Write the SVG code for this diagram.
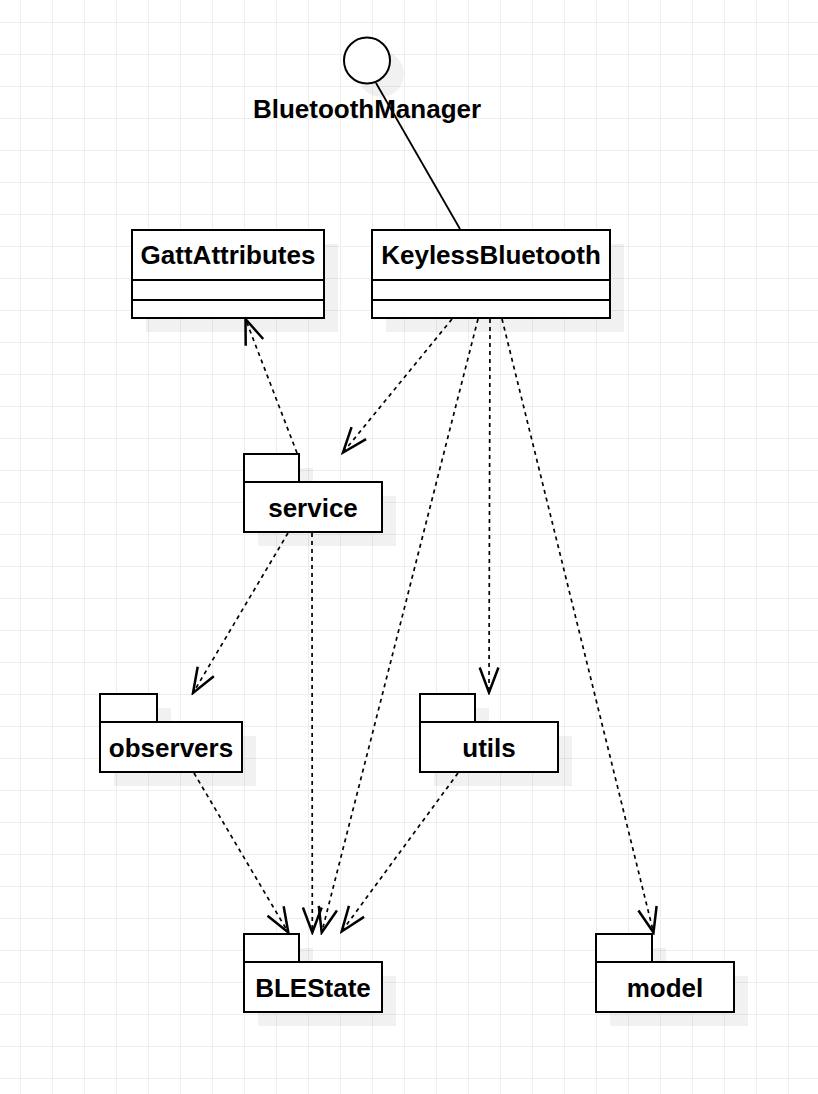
<svg xmlns="http://www.w3.org/2000/svg" width="818" height="1094" viewBox="0 0 818 1094">
<defs>
<pattern id="grid" patternUnits="userSpaceOnUse" x="20" y="22" width="32" height="32">
<rect x="0" y="0" width="32" height="1" fill="#eeeeee"/>
<rect x="0" y="0" width="1" height="32" fill="#eeeeee"/>
</pattern>
<marker id="open" markerUnits="userSpaceOnUse" markerWidth="30" markerHeight="30" viewBox="-22 -10 24 20" refX="0" refY="0" orient="auto">
<path d="M-20,-7.5 L0,0 L-20,7.5" fill="none" stroke="#000" stroke-width="2" stroke-dasharray="none"/>
</marker>
</defs>
<style>
.shape{fill:#fff;stroke:#000;stroke-width:2}
.shadow{fill:#000;fill-opacity:0.055}
.lbl{font-family:"Liberation Sans",Arial,sans-serif;font-weight:bold;font-size:26px;text-anchor:middle;fill:#000}
.dep{fill:none;stroke:#000;stroke-width:1.7;stroke-dasharray:4 4;marker-end:url(#open)}
.solid{fill:none;stroke:#000;stroke-width:1.8}
</style>
<rect width="818" height="1094" fill="#fff"/>
<rect width="818" height="1094" fill="url(#grid)"/>

<g id="BluetoothManager">
<circle class="shadow" cx="381" cy="74" r="23"/>
<circle class="shape" cx="367" cy="60.5" r="23"/>
<text class="lbl" x="367" y="117.5">BluetoothManager</text>
</g>

<g id="GattAttributes">
<rect class="shadow" x="146" y="244" width="192" height="88"/>
<rect class="shape" x="132" y="230" width="192" height="88"/>
<line class="shape" x1="132" y1="280" x2="324" y2="280"/>
<line class="shape" x1="132" y1="300" x2="324" y2="300"/>
<text class="lbl" x="228" y="264.3">GattAttributes</text>
</g>

<g id="KeylessBluetooth">
<rect class="shadow" x="386" y="244" width="238" height="88"/>
<rect class="shape" x="372" y="230" width="238" height="88"/>
<line class="shape" x1="372" y1="280" x2="610" y2="280"/>
<line class="shape" x1="372" y1="300" x2="610" y2="300"/>
<text class="lbl" x="491" y="264.3">KeylessBluetooth</text>
</g>

<g id="service">
<rect class="shadow" x="258" y="468" width="55" height="28"/>
<rect class="shadow" x="258" y="496" width="138" height="50"/>
<rect class="shape" x="244" y="454" width="55" height="28"/>
<rect class="shape" x="244" y="482" width="138" height="50"/>
<text class="lbl" x="313" y="516.5">service</text>
</g>

<g id="observers">
<rect class="shadow" x="114" y="708" width="57" height="28"/>
<rect class="shadow" x="114" y="736" width="142" height="50"/>
<rect class="shape" x="100" y="694" width="57" height="28"/>
<rect class="shape" x="100" y="722" width="142" height="50"/>
<text class="lbl" x="171" y="756.5">observers</text>
</g>

<g id="utils">
<rect class="shadow" x="434" y="708" width="55" height="28"/>
<rect class="shadow" x="434" y="736" width="138" height="50"/>
<rect class="shape" x="420" y="694" width="55" height="28"/>
<rect class="shape" x="420" y="722" width="138" height="50"/>
<text class="lbl" x="489" y="756.5">utils</text>
</g>

<g id="BLEState">
<rect class="shadow" x="258" y="948" width="55" height="28"/>
<rect class="shadow" x="258" y="976" width="138" height="50"/>
<rect class="shape" x="244" y="934" width="55" height="28"/>
<rect class="shape" x="244" y="962" width="138" height="50"/>
<text class="lbl" x="313" y="996.5">BLEState</text>
</g>

<g id="model">
<rect class="shadow" x="610" y="948" width="56" height="28"/>
<rect class="shadow" x="610" y="976" width="138" height="50"/>
<rect class="shape" x="596" y="934" width="56" height="28"/>
<rect class="shape" x="596" y="962" width="138" height="50"/>
<text class="lbl" x="665" y="996.5">model</text>
</g>

<g id="connectors">
<line class="solid" x1="376" y1="83" x2="460" y2="229"/>
<line class="dep" x1="297" y1="453" x2="245.5" y2="319"/>
<line class="dep" x1="452" y1="319" x2="343" y2="452.5"/>
<line class="dep" x1="478" y1="319" x2="321.7" y2="932.5"/>
<line class="dep" x1="490" y1="319" x2="489" y2="692.5"/>
<line class="dep" x1="502" y1="319" x2="653.5" y2="932.5"/>
<line class="dep" x1="288" y1="533" x2="193" y2="693"/>
<line class="dep" x1="312" y1="533" x2="312.3" y2="932.5"/>
<line class="dep" x1="194" y1="773" x2="288.3" y2="932.5"/>
<line class="dep" x1="458" y1="773" x2="341.7" y2="931.5"/>
</g>
</svg>
